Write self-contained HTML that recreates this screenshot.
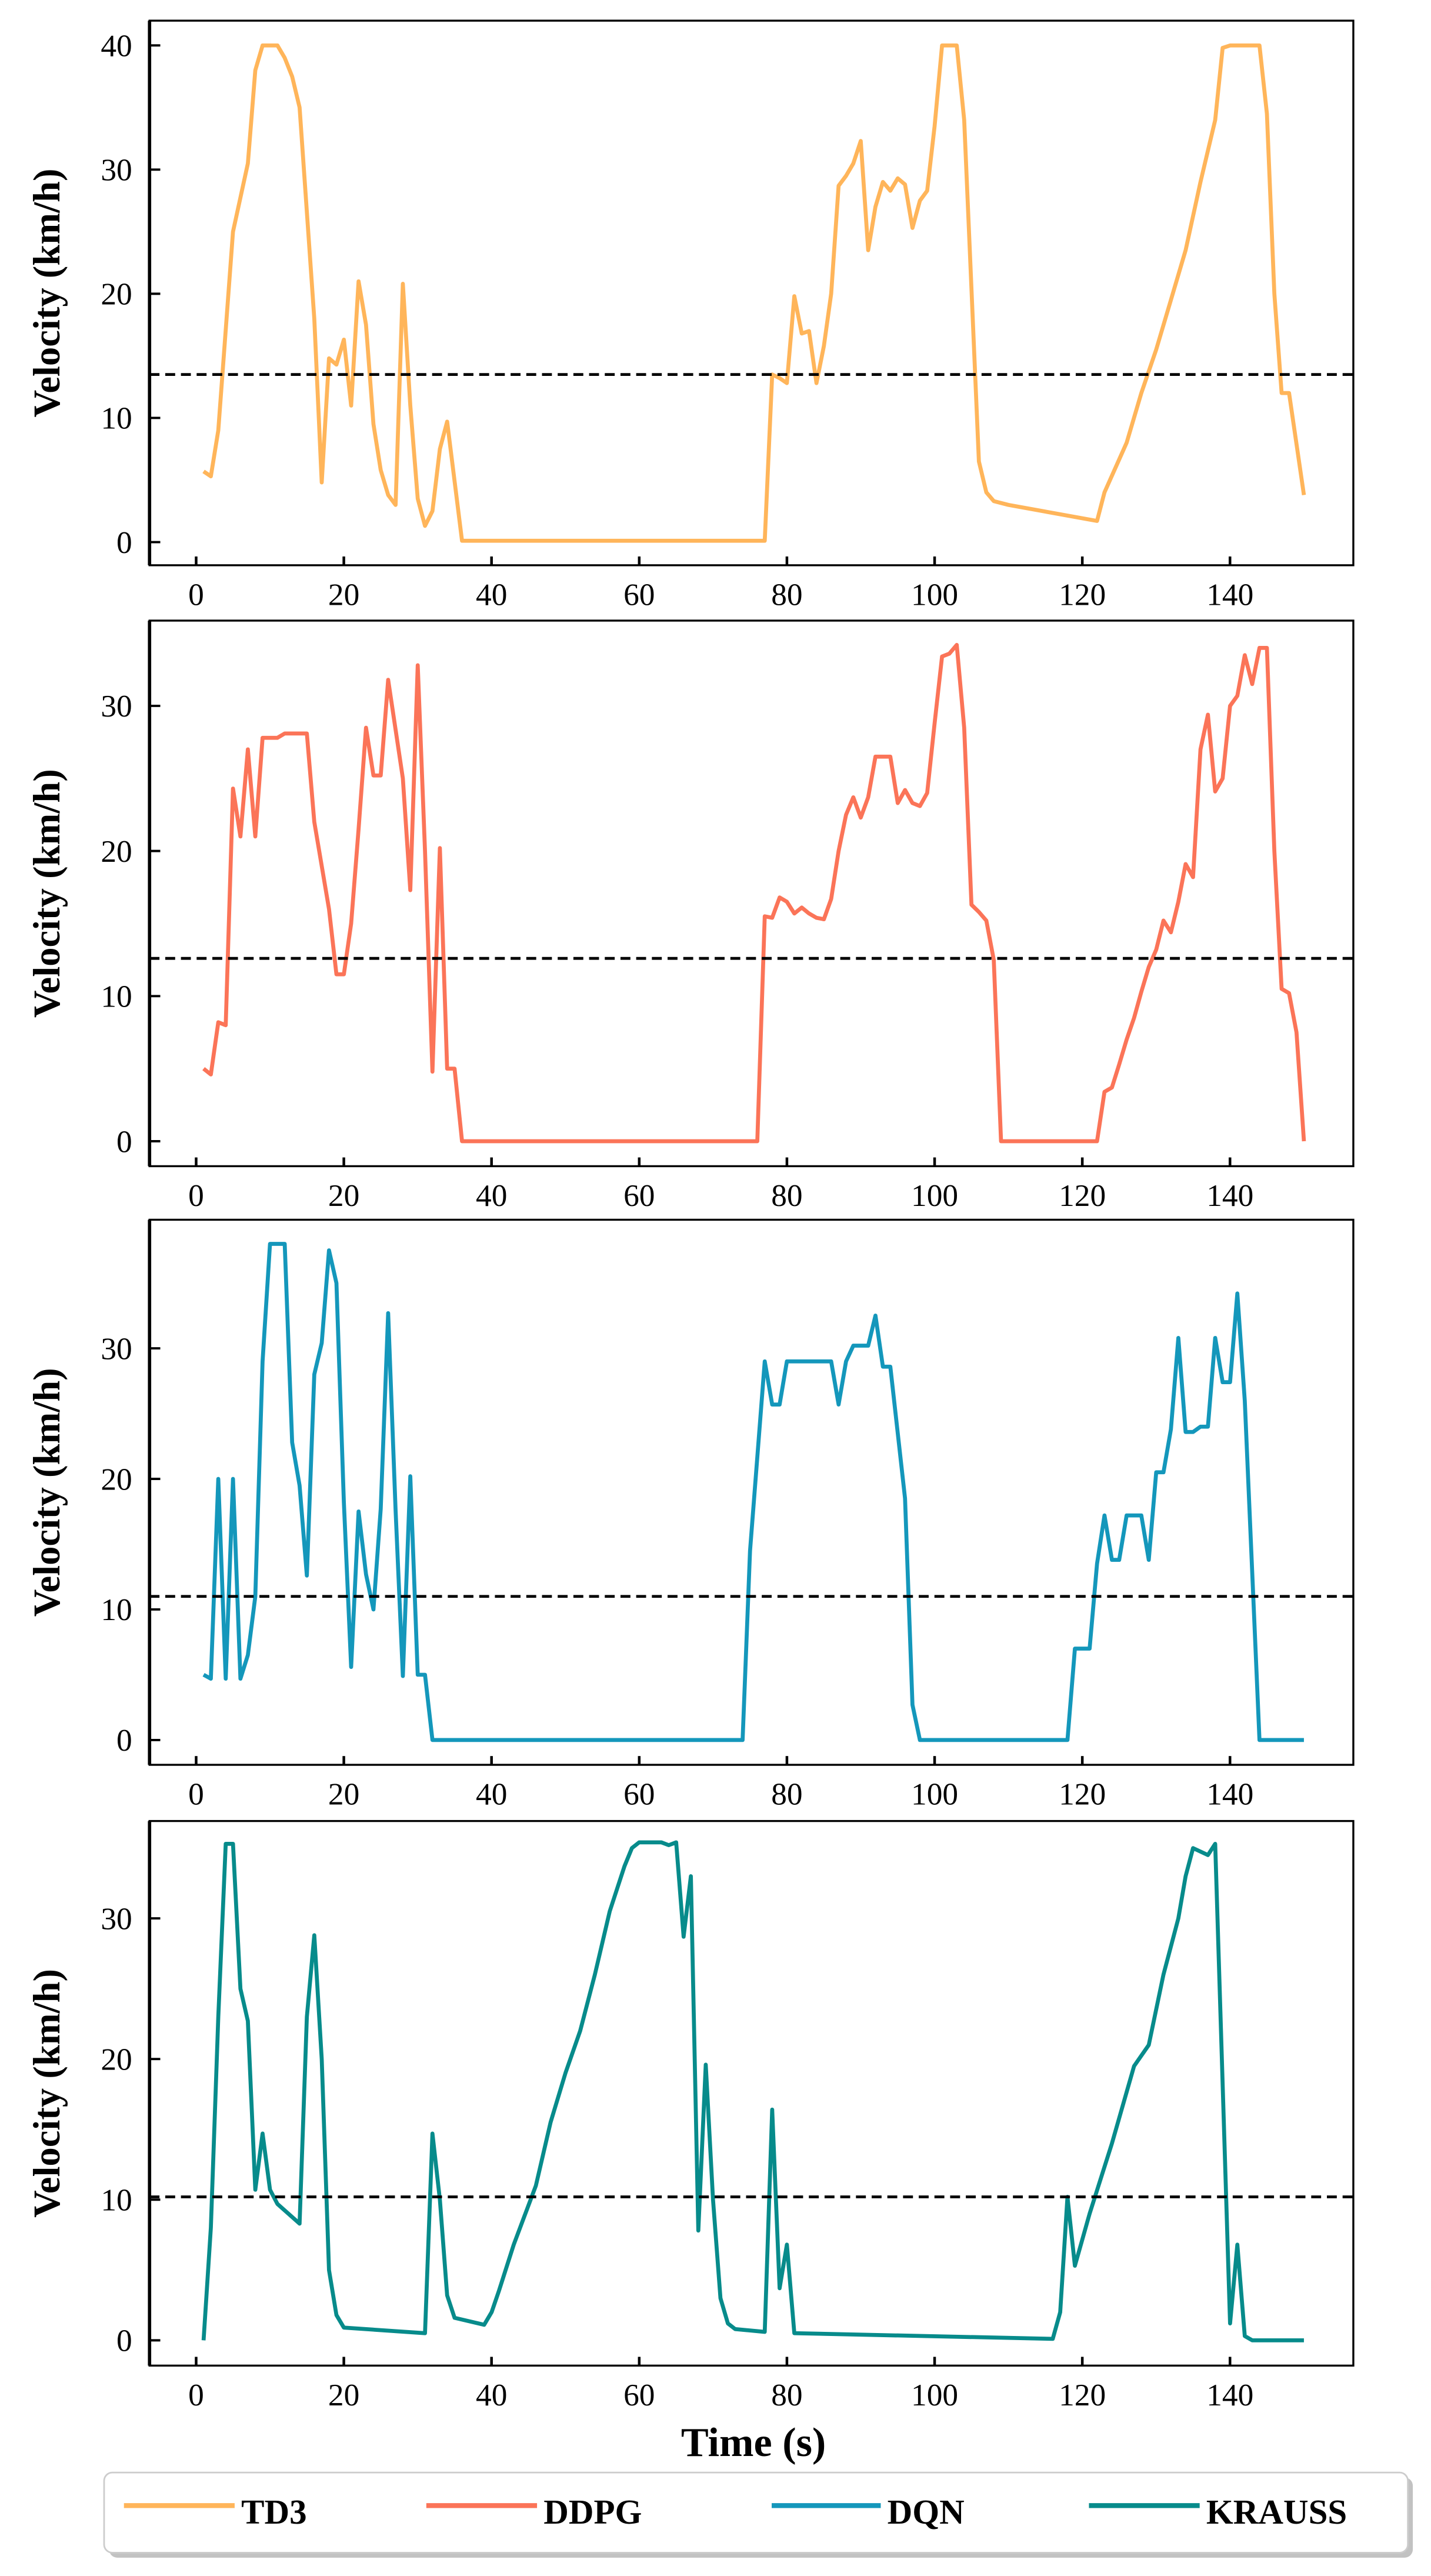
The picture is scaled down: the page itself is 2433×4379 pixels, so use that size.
<!DOCTYPE html>
<html><head><meta charset="utf-8"><style>
html,body{margin:0;padding:0;background:#fff;}
svg{display:block;}
text{font-family:"Liberation Serif",serif;}
</style></head><body>
<svg id="s" width="2433" height="4379" viewBox="0 0 866 1558.6" preserveAspectRatio="none" xmlns="http://www.w3.org/2000/svg"></svg>
<script>
const S=document.getElementById('s');let h='';
const X=t=>118.7+4.469*t;
const R=819;
const panels=[
 {top:12.5,bot:342,z:328,k:7.513,ticks:[0,10,20,30,40],dash:13.5,c:'#ffb55a',d:[[1,5.7],[2,5.3],[3,9],[5,25],[7,30.5],[8,38],[9,40],[11,40],[12,39],[13,37.5],[14,35],[16,18],[17,4.8],[18,14.8],[19,14.3],[20,16.3],[21,11],[22,21],[23,17.5],[24,9.5],[25,5.8],[26,3.8],[27,3],[28,20.8],[29,11],[30,3.5],[31,1.3],[32,2.5],[33,7.5],[34,9.7],[36,0.1],[77,0.1],[78,13.5],[79,13.2],[80,12.8],[81,19.8],[82,16.8],[83,17],[84,12.8],[85,15.8],[86,20],[87,28.7],[88,29.5],[89,30.5],[90,32.3],[91,23.5],[92,27],[93,29],[94,28.3],[95,29.3],[96,28.8],[97,25.3],[98,27.5],[99,28.3],[100,33.5],[101,40],[103,40],[104,34],[106,6.5],[107,4],[108,3.3],[110,3],[122,1.7],[123,4],[126,8],[128,12],[130,15.5],[132,19.5],[134,23.5],[136,29],[138,34],[139,39.8],[140,40],[144,40],[145,34.5],[146,20],[147,12],[148,12],[150,3.8]]},
 {top:375.5,bot:705.6,z:690.5,k:8.78,ticks:[0,10,20,30],dash:12.6,c:'#fb7458',d:[[1,5],[2,4.6],[3,8.2],[4,8],[5,24.3],[6,21],[7,27],[8,21],[9,27.8],[11,27.8],[12,28.1],[15,28.1],[16,22],[18,16],[19,11.5],[20,11.5],[21,15],[22,21.5],[23,28.5],[24,25.2],[25,25.2],[26,31.8],[28,25],[29,17.3],[30,32.8],[31,20],[32,4.8],[33,20.2],[34,5],[35,5],[36,0],[76,0],[77,15.5],[78,15.4],[79,16.8],[80,16.5],[81,15.7],[82,16.1],[83,15.7],[84,15.4],[85,15.3],[86,16.7],[87,20],[88,22.5],[89,23.7],[90,22.3],[91,23.7],[92,26.5],[94,26.5],[95,23.3],[96,24.2],[97,23.3],[98,23.1],[99,24],[100,28.8],[101,33.4],[102,33.6],[103,34.2],[104,28.5],[105,16.3],[106,15.8],[107,15.2],[108,12.5],[109,0],[122,0],[123,3.4],[124,3.7],[125,5.3],[126,7],[127,8.5],[128,10.3],[129,12],[130,13.2],[131,15.2],[132,14.4],[133,16.5],[134,19.1],[135,18.2],[136,27],[137,29.4],[138,24.1],[139,25],[140,30],[141,30.7],[142,33.5],[143,31.5],[144,34],[145,34],[146,20],[147,10.5],[148,10.2],[149,7.5],[150,0]]},
 {top:738,bot:1067.8,z:1052.8,k:7.9,ticks:[0,10,20,30],dash:11.0,c:'#1497bb',d:[[1,5],[2,4.7],[3,20],[4,4.7],[5,20],[6,4.7],[7,6.5],[8,11],[9,29],[10,38],[12,38],[13,22.8],[14,19.5],[15,12.6],[16,28],[17,30.4],[18,37.5],[19,35],[20,18.2],[21,5.6],[22,17.5],[23,12.7],[24,10],[25,17.7],[26,32.7],[27,17.6],[28,4.9],[29,20.2],[30,5],[31,5],[32,0],[74,0],[75,14.5],[77,29],[78,25.7],[79,25.7],[80,29],[86,29],[87,25.7],[88,29],[89,30.2],[91,30.2],[92,32.5],[93,28.6],[94,28.6],[96,18.5],[97,2.7],[98,0],[118,0],[119,7],[121,7],[122,13.5],[123,17.2],[124,13.8],[125,13.8],[126,17.2],[128,17.2],[129,13.8],[130,20.5],[131,20.5],[132,23.8],[133,30.8],[134,23.6],[135,23.6],[136,24],[137,24],[138,30.8],[139,27.4],[140,27.4],[141,34.2],[142,26],[144,0],[150,0]]},
 {top:1101.8,bot:1431.3,z:1416,k:8.51,ticks:[0,10,20,30],dash:10.2,c:'#078b8b',d:[[1,0],[2,8],[3,23],[4,35.3],[5,35.3],[6,25],[7,22.7],[8,10.7],[9,14.7],[10,10.7],[11,9.7],[14,8.3],[15,23],[16,28.8],[17,20],[18,5],[19,1.8],[20,0.9],[31,0.5],[32,14.7],[33,10],[34,3.2],[35,1.6],[39,1.1],[40,2],[41,3.5],[43,6.8],[46,11],[48,15.5],[50,19],[52,22],[54,26],[56,30.5],[58,33.7],[59,35],[60,35.4],[63,35.4],[64,35.2],[65,35.4],[66,28.7],[67,33],[68,7.8],[69,19.6],[70,10],[71,3],[72,1.2],[73,0.8],[77,0.6],[78,16.4],[79,3.7],[80,6.8],[81,0.5],[116,0.1],[117,2],[118,10.2],[119,5.3],[121,9],[124,14],[127,19.5],[129,21],[131,26],[133,30],[134,33],[135,35],[137,34.5],[138,35.3],[140,1.2],[141,6.8],[142,0.3],[143,0],[150,0]]}
];
panels.forEach((p,i)=>{
 const Y=v=>p.z-p.k*v;
 h+=`<path d="${p.d.map((q,j)=>(j?'L':'M')+X(q[0]).toFixed(1)+','+Y(q[1]).toFixed(1)).join('')}" fill="none" stroke="${p.c}" stroke-width="2.4" stroke-linejoin="round"/>`;
 h+=`<line x1="90.5" x2="${R}" y1="${Y(p.dash)}" y2="${Y(p.dash)}" stroke="#000" stroke-width="1.7" stroke-dasharray="6,3.5"/>`;
 h+=`<rect x="90.5" y="${p.top}" width="${R-90.5}" height="${p.bot-p.top}" fill="none" stroke="#000" stroke-width="1.2"/>`;
 h+=`<line x1="90.5" x2="90.5" y1="${p.top}" y2="${p.bot}" stroke="#000" stroke-width="2"/>`;
 p.ticks.forEach(v=>{const y=Y(v);h+=`<line x1="90.5" x2="97" y1="${y}" y2="${y}" stroke="#000" stroke-width="1.4"/><text x="80" y="${y+6.5}" font-size="19" text-anchor="end">${v}</text>`;});
 for(let t=0;t<=140;t+=20){const x=X(t);h+=`<line x1="${x}" x2="${x}" y1="${p.bot}" y2="${p.bot-5.3}" stroke="#000" stroke-width="1.6"/><text x="${x}" y="${p.bot+24}" font-size="19" text-anchor="middle">${t}</text>`;}
 const cy=(p.top+p.bot)/2;
 h+=`<text transform="translate(36,${cy}) rotate(-90)" font-size="23" font-weight="bold" text-anchor="middle">Velocity (km/h)</text>`;
});
h+=`<text x="456" y="1486" font-size="25" font-weight="bold" text-anchor="middle">Time (s)</text>`;
h+=`<rect x="66" y="1499" width="789" height="48.5" rx="5" fill="#999" opacity="0.6"/>`;
h+=`<rect x="63" y="1496" width="789" height="48.5" rx="5" fill="#fff" stroke="#ccc" stroke-width="1"/>`;
[[75,146,'TD3','#ffb55a'],[258,329,'DDPG','#fb7458'],[467,537,'DQN','#1497bb'],[659,730,'KRAUSS','#078b8b']].forEach(l=>{
 h+=`<line x1="${l[0]}" x2="${l[1]-4}" y1="1516" y2="1516" stroke="${l[3]}" stroke-width="3"/><text x="${l[1]}" y="1527" font-size="21" font-weight="bold">${l[2]}</text>`;
});
S.innerHTML=h;
</script>
</body></html>
